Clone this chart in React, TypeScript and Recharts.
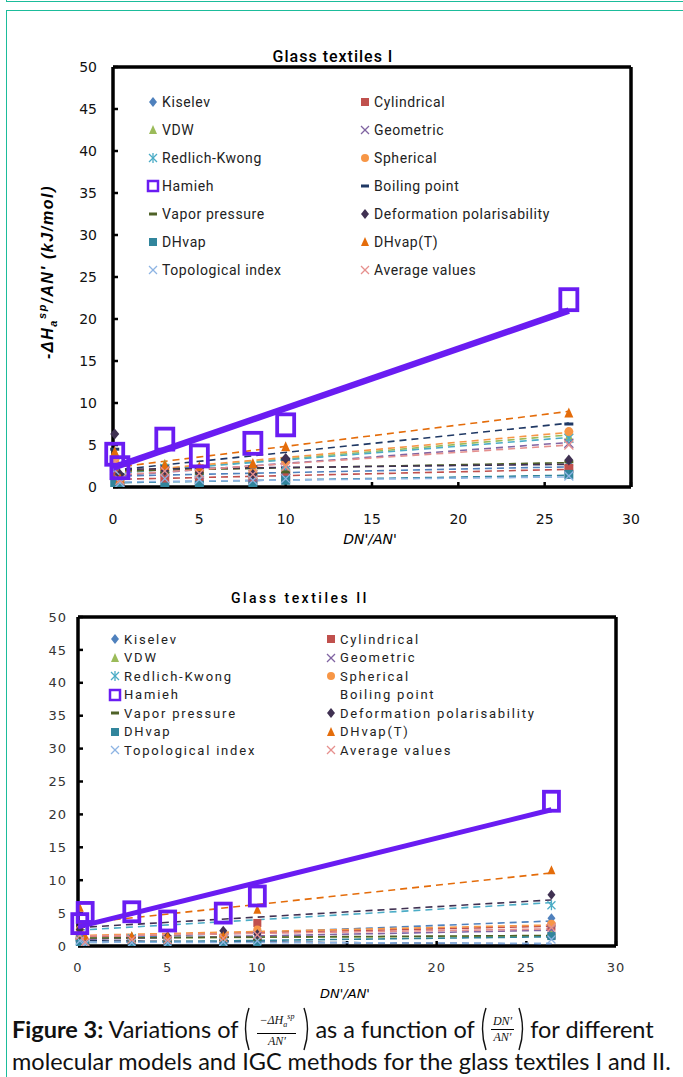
import React from 'react';
import { ScatterChart, Scatter, XAxis, YAxis, ReferenceLine } from 'recharts';

// ---------- data ----------
const PROBE_X = [0.1, 0.4, 3, 5, 8.1, 10, 26.4];
const TREND_X = [0, 26.4];
const X_TICKS = [0, 5, 10, 15, 20, 25, 30];
const Y_TICKS = [0, 5, 10, 15, 20, 25, 30, 35, 40, 45, 50];

const SERIES_NAMES = [
  'Kiselev', 'Cylindrical', 'VDW', 'Geometric', 'Redlich-Kwong', 'Spherical', 'Hamieh',
  'Boiling point', 'Vapor pressure', 'Deformation polarisability', 'DHvap', 'DHvap(T)',
  'Topological index', 'Average values',
];

// Glass textiles I : values at PROBE_X
const G1_KISELEV = [2.2, 1.0, 1.5, 1.2, 1.0, 1.5, 2.6];
const G1_CYLINDRICAL = [1.8, 0.5, 1.0, 0.8, 0.8, 1.2, 2.2];
const G1_VDW = [3.0, 1.2, 2.7, 1.8, 1.5, 2.5, 6.0];
const G1_GEOMETRIC = [2.5, 0.8, 1.8, 1.5, 1.2, 2.0, 5.2];
const G1_REDLICH = [2.8, 1.0, 2.2, 1.7, 1.5, 2.6, 5.8];
const G1_SPHERICAL = [3.2, 0.5, 2.0, 1.9, 1.8, 3.0, 6.6];
const G1_HAMIEH = [3.9, 2.3, 5.7, 3.7, 5.2, 7.4, 22.3];
const G1_BOILING = [4.5, 1.5, 2.4, 2.2, 2.4, 3.3, 7.5];
const G1_VAPOR = [2.3, 1.0, 1.7, 1.6, 1.5, 1.8, 3.0];
const G1_DEFORM = [6.3, 1.5, 2.0, 1.8, 1.5, 3.4, 3.2];
const G1_DHVAP = [0.3, 0.1, 0.0, 0.2, 0.1, 0.8, 1.5];
const G1_DHVAPT = [4.2, 1.0, 2.6, 2.4, 2.8, 4.8, 8.8];
const G1_TOPO = [2.0, 0.5, 1.0, 0.9, 0.8, 1.0, 1.3];
const G1_AVERAGE = [3.0, 0.8, 1.9, 1.6, 1.5, 2.4, 5.0];

// Glass textiles I : trend line values at TREND_X
const G1T_KISELEV = [1.3, 2.4];
const G1T_CYLINDRICAL = [0.9, 2.1];
const G1T_VDW = [1.6, 6.2];
const G1T_GEOMETRIC = [1.3, 5.3];
const G1T_REDLICH = [1.6, 5.9];
const G1T_SPHERICAL = [1.7, 6.5];
const G1T_HAMIEH = [2.3, 21.0];
const G1T_BOILING = [2.0, 7.6];
const G1T_VAPOR = [1.9, 2.9];
const G1T_DEFORM = [2.1, 2.7];
const G1T_DHVAP = [0.5, 1.4];
const G1T_DHVAPT = [2.3, 9.0];
const G1T_TOPO = [0.6, 1.2];
const G1T_AVERAGE = [1.4, 5.0];

// Glass textiles II : values at PROBE_X
const G2_KISELEV = [2.0, 0.8, 1.2, 1.0, 1.5, 2.0, 4.2];
const G2_CYLINDRICAL = [1.5, 0.5, 0.8, 1.0, 1.2, 3.5, 3.0];
const G2_VDW = [1.8, 0.6, 1.5, 1.0, 1.0, 1.5, 2.0];
const G2_GEOMETRIC = [1.2, 0.5, 1.0, 0.8, 1.0, 1.5, 2.5];
const G2_REDLICH = [1.4, 0.5, 1.2, 0.9, 1.2, 1.8, 6.2];
const G2_SPHERICAL = [2.5, 0.8, 1.0, 0.8, 1.5, 2.5, 3.4];
const G2_HAMIEH = [3.4, 5.1, 5.2, 3.8, 5.0, 7.6, 22.0];
const G2_BOILING = [1.0, 0.5, 0.8, 0.6, 0.8, 1.0, 1.2];
const G2_VAPOR = [1.2, 0.4, 0.8, 0.6, 0.8, 1.0, 1.6];
const G2_DEFORM = [2.5, 1.0, 1.2, 1.5, 2.3, 1.8, 7.8];
const G2_DHVAP = [0.3, 0.2, 0.1, 0.1, 0.1, 0.2, 1.5];
const G2_DHVAPT = [5.8, 1.5, 1.5, 1.5, 1.5, 5.5, 11.5];
const G2_TOPO = [0.8, 0.3, 0.5, 0.5, 0.6, 0.8, 1.0];
const G2_AVERAGE = [1.6, 0.6, 1.0, 0.9, 1.2, 1.7, 2.8];

// Glass textiles II : trend line values at TREND_X
const G2T_KISELEV = [1.0, 3.8];
const G2T_CYLINDRICAL = [1.4, 3.0];
const G2T_VDW = [1.2, 1.5];
const G2T_GEOMETRIC = [1.0, 2.4];
const G2T_REDLICH = [2.4, 6.6];
const G2T_SPHERICAL = [1.6, 3.2];
const G2T_HAMIEH = [2.9, 20.7];
const G2T_BOILING = [0.8, 0.3];
const G2T_VAPOR = [1.2, 1.6];
const G2T_DEFORM = [2.8, 7.0];
const G2T_DHVAP = [0.5, 1.4];
const G2T_DHVAPT = [3.4, 11.1];
const G2T_TOPO = [0.6, 0.4];
const G2T_AVERAGE = [1.5, 2.6];

const G1_VALUES = [G1_KISELEV, G1_CYLINDRICAL, G1_VDW, G1_GEOMETRIC, G1_REDLICH, G1_SPHERICAL, G1_HAMIEH,
  G1_BOILING, G1_VAPOR, G1_DEFORM, G1_DHVAP, G1_DHVAPT, G1_TOPO, G1_AVERAGE];
const G1_TRENDS = [G1T_KISELEV, G1T_CYLINDRICAL, G1T_VDW, G1T_GEOMETRIC, G1T_REDLICH, G1T_SPHERICAL, G1T_HAMIEH,
  G1T_BOILING, G1T_VAPOR, G1T_DEFORM, G1T_DHVAP, G1T_DHVAPT, G1T_TOPO, G1T_AVERAGE];
const G2_VALUES = [G2_KISELEV, G2_CYLINDRICAL, G2_VDW, G2_GEOMETRIC, G2_REDLICH, G2_SPHERICAL, G2_HAMIEH,
  G2_BOILING, G2_VAPOR, G2_DEFORM, G2_DHVAP, G2_DHVAPT, G2_TOPO, G2_AVERAGE];
const G2_TRENDS = [G2T_KISELEV, G2T_CYLINDRICAL, G2T_VDW, G2T_GEOMETRIC, G2T_REDLICH, G2T_SPHERICAL, G2T_HAMIEH,
  G2T_BOILING, G2T_VAPOR, G2T_DEFORM, G2T_DHVAP, G2T_DHVAPT, G2T_TOPO, G2T_AVERAGE];

// ---------- styles ----------
const HAMIEH_COLOR = '#6a1cf2';
const SERIES_STYLE: Record<string, { color: string; shape: string }> = {
  'Kiselev': { color: '#4f81bd', shape: 'diamond' },
  'Cylindrical': { color: '#c0504d', shape: 'square' },
  'VDW': { color: '#9bbb59', shape: 'triangle' },
  'Geometric': { color: '#8064a2', shape: 'x' },
  'Redlich-Kwong': { color: '#4bacc6', shape: 'star' },
  'Spherical': { color: '#f79646', shape: 'circle' },
  'Hamieh': { color: HAMIEH_COLOR, shape: 'open' },
  'Boiling point': { color: '#1f3864', shape: 'dash' },
  'Vapor pressure': { color: '#4f6228', shape: 'dash' },
  'Deformation polarisability': { color: '#403152', shape: 'diamond' },
  'DHvap': { color: '#31859c', shape: 'square' },
  'DHvap(T)': { color: '#e46c0a', shape: 'triangle' },
  'Topological index': { color: '#8eb4e3', shape: 'x' },
  'Average values': { color: '#e6908e', shape: 'x' },
};

function drawMarker(shape: string, color: string, cx: number, cy: number, s: number) {
  const h = s / 2;
  switch (shape) {
    case 'diamond':
      return <polygon points={`${cx},${cy - h - 1} ${cx + h},${cy} ${cx},${cy + h + 1} ${cx - h},${cy}`} fill={color} />;
    case 'square':
      return <rect x={cx - h} y={cy - h} width={s} height={s} fill={color} />;
    case 'triangle':
      return <polygon points={`${cx},${cy - h - 1} ${cx + h},${cy + h} ${cx - h},${cy + h}`} fill={color} />;
    case 'x':
      return (
        <g stroke={color} strokeWidth={1.3}>
          <line x1={cx - h} y1={cy - h} x2={cx + h} y2={cy + h} />
          <line x1={cx - h} y1={cy + h} x2={cx + h} y2={cy - h} />
        </g>
      );
    case 'star':
      return (
        <g stroke={color} strokeWidth={1.3}>
          <line x1={cx - h} y1={cy - h} x2={cx + h} y2={cy + h} />
          <line x1={cx - h} y1={cy + h} x2={cx + h} y2={cy - h} />
          <line x1={cx} y1={cy - h - 1} x2={cx} y2={cy + h + 1} />
        </g>
      );
    case 'circle':
      return <circle cx={cx} cy={cy} r={h} fill={color} />;
    case 'dash':
      return <rect x={cx - h} y={cy - 1.5} width={s} height={3} fill={color} />;
    case 'open':
      return <rect x={cx - h} y={cy - h - 2} width={s} height={s + 4} fill="none" stroke={color} strokeWidth={3.8} />;
    default:
      return <g />;
  }
}

const makeShape = (shape: string, color: string, s: number) => (props: any) => {
  const { cx, cy } = props;
  if (cx == null || cy == null) return <g />;
  return drawMarker(shape, color, cx, cy, s);
};
const noShape = () => <g />;

const toPoints = (xs: number[], ys: number[]) => xs.map((x, i) => ({ x, y: ys[i] }));

// ---------- chart ----------
type ChartProps = {
  values: number[][];
  trends: number[][];
  top: number;
  height: number;
  margin: { top: number; right: number; left: number; bottom: number };
  yAxisWidth: number;
  xAxisHeight: number;
  yTickMargin: number;
  xTickMargin: number;
  tickFont: any;
  markerSize: number;
  hamiehSize: number;
  hamiehWidth: number;
};

function GlassChart(p: ChartProps) {
  const names = SERIES_NAMES;
  const hi = names.indexOf('Hamieh');
  return (
    <div style={{ position: 'absolute', left: 0, top: p.top }}>
      <ScatterChart width={683} height={p.height} margin={p.margin}>
        <XAxis
          type="number"
          dataKey="x"
          domain={[0, 30]}
          ticks={X_TICKS}
          interval={0}
          height={p.xAxisHeight}
          axisLine={{ stroke: '#000', strokeWidth: 3.5 }}
          tickLine={{ stroke: '#000', strokeWidth: 2.5 }}
          tickSize={-5}
          tickMargin={p.xTickMargin}
          tick={p.tickFont}
        />
        <YAxis
          type="number"
          dataKey="y"
          domain={[0, 50]}
          ticks={Y_TICKS}
          interval={0}
          width={p.yAxisWidth}
          allowDataOverflow
          axisLine={{ stroke: '#000', strokeWidth: 3.5 }}
          tickLine={{ stroke: '#000', strokeWidth: 2.5 }}
          tickSize={-5}
          tickMargin={p.yTickMargin}
          tick={p.tickFont}
        />
        <ReferenceLine y={50} stroke="#000" strokeWidth={3.5} ifOverflow="visible" />
        <ReferenceLine x={30} stroke="#000" strokeWidth={3.5} ifOverflow="visible" />
        {names.map((n, i) =>
          i === hi ? null : (
            <Scatter
              key={'t' + n}
              data={toPoints(TREND_X, p.trends[i])}
              line={{ stroke: SERIES_STYLE[n].color, strokeWidth: 1.6, strokeDasharray: '7 5' }}
              shape={noShape}
              isAnimationActive={false}
            />
          )
        )}
        {names.map((n, i) =>
          i === hi ? null : (
            <Scatter
              key={'m' + n}
              data={toPoints(PROBE_X, p.values[i])}
              shape={makeShape(SERIES_STYLE[n].shape, SERIES_STYLE[n].color, p.markerSize)}
              isAnimationActive={false}
            />
          )
        )}
        <Scatter
          data={toPoints(TREND_X, p.trends[hi])}
          line={{ stroke: HAMIEH_COLOR, strokeWidth: p.hamiehWidth }}
          shape={noShape}
          isAnimationActive={false}
        />
        <Scatter
          data={toPoints(PROBE_X, p.values[hi])}
          shape={makeShape('open', HAMIEH_COLOR, p.hamiehSize)}
          isAnimationActive={false}
        />
      </ScatterChart>
    </div>
  );
}

function LegendBox(props: {
  left: number; top: number; col2: number; rowH: number; font: any; markerSize: number; blankBoiling?: boolean;
}) {
  const rows: string[][] = [];
  for (let i = 0; i < SERIES_NAMES.length; i += 2) rows.push([SERIES_NAMES[i], SERIES_NAMES[i + 1]]);
  return (
    <div style={{ position: 'absolute', left: props.left, top: props.top }}>
      {rows.map((r, ri) => (
        <div key={ri} style={{ position: 'relative', height: props.rowH }}>
          {r.map((n, ci) => {
            const st = SERIES_STYLE[n];
            const hideMarker = props.blankBoiling && n === 'Boiling point';
            return (
              <div
                key={n}
                style={{
                  position: 'absolute', left: ci === 0 ? 0 : props.col2, top: 0, height: props.rowH,
                  display: 'flex', alignItems: 'center', whiteSpace: 'nowrap', ...props.font,
                }}
              >
                <svg width={14} height={14} style={{ marginRight: 2 }}>
                  {hideMarker ? null : n === 'Hamieh'
                    ? <rect x={2} y={2} width={10} height={10} fill="none" stroke={HAMIEH_COLOR} strokeWidth={2.5} />
                    : drawMarker(st.shape, st.color, 7, 7, props.markerSize)}
                </svg>
                <span>{n}</span>
              </div>
            );
          })}
        </div>
      ))}
    </div>
  );
}

const tick1 = { fill: '#111', fontSize: 14, fontFamily: 'DejaVu Sans', fontWeight: 400 };
const tick2 = { fill: '#333', fontSize: 13, fontFamily: 'DejaVu Sans', letterSpacing: 1 };

function Paren({ right }: { right?: boolean }) {
  return (
    <svg width={9} height={46} style={{ display: 'block' }}>
      <path d={right ? 'M2,2 Q9,23 2,44' : 'M7,2 Q0,23 7,44'} stroke="#111" strokeWidth={1.4} fill="none" />
    </svg>
  );
}

function Frac({ num, den, pad }: { num: React.ReactNode; den: React.ReactNode; pad: number }) {
  return (
    <span style={{ display: 'inline-flex', alignItems: 'center', height: 30, margin: '0 4px' }}>
      <Paren />
      <span style={{ display: 'inline-flex', flexDirection: 'column', alignItems: 'center', fontFamily: 'Liberation Serif', fontStyle: 'italic', fontSize: 12, lineHeight: '15px', padding: `0 ${pad}px` }}>
        <span style={{ borderBottom: '1px solid #000', padding: '0 2px' }}>{num}</span>
        <span>{den}</span>
      </span>
      <Paren right />
    </span>
  );
}

export default function App() {
  return (
    <div style={{ position: 'absolute', left: 0, top: 0, width: 683, height: 1077, background: '#fff', overflow: 'hidden' }}>
      {/* teal frames */}
      <div style={{ position: 'absolute', left: 6, top: -20, width: 700, height: 21, borderLeft: '1.5px solid #1bbc9b', borderBottom: '1.5px solid #1bbc9b' }} />
      <div style={{ position: 'absolute', left: 6, top: 10, width: 700, height: 1100, borderLeft: '1.5px solid #1bbc9b', borderTop: '1.5px solid #1bbc9b' }} />

      {/* Chart I */}
      <GlassChart
        values={G1_VALUES}
        trends={G1_TRENDS}
        top={0}
        height={560}
        margin={{ top: 67, right: 52, left: 53, bottom: 13 }}
        yAxisWidth={60}
        xAxisHeight={60}
        yTickMargin={21}
        xTickMargin={32}
        tickFont={tick1}
        markerSize={9}
        hamiehSize={17}
        hamiehWidth={6.5}
      />
      <div style={{ position: 'absolute', left: 233, width: 200, top: 47, textAlign: 'center', fontFamily: 'Roboto', fontWeight: 500, fontSize: 16, letterSpacing: 1 }}>
        Glass textiles I
      </div>
      <svg style={{ position: 'absolute', left: 0, top: 0 }} width={100} height={560}>
        <text transform="translate(53,272) rotate(-90)" textAnchor="middle" fontFamily="Liberation Sans" fontWeight="bold" fontStyle="italic" fontSize={16} letterSpacing={1.6}>
          -ΔH<tspan dy={4} fontSize={11}>a</tspan><tspan dy={-11} fontSize={11}>sp</tspan><tspan dy={7}>/AN' (kJ/mol)</tspan>
        </text>
      </svg>
      <div style={{ position: 'absolute', left: 320, width: 100, top: 531, textAlign: 'center', fontFamily: 'DejaVu Sans', fontStyle: 'italic', fontSize: 14 }}>
        DN'/AN'
      </div>
      <LegendBox left={146} top={88} col2={212} rowH={28} markerSize={8}
        font={{ fontFamily: 'Roboto', fontSize: 14, letterSpacing: 0.6, color: '#222' }} />

      {/* Chart II */}
      <GlassChart
        values={G2_VALUES}
        trends={G2_TRENDS}
        top={560}
        height={440}
        margin={{ top: 57, right: 67, left: 28, bottom: 14 }}
        yAxisWidth={50}
        xAxisHeight={40}
        yTickMargin={16}
        xTickMargin={22}
        tickFont={tick2}
        markerSize={8}
        hamiehSize={15}
        hamiehWidth={5}
      />
      <div style={{ position: 'absolute', left: 200, width: 200, top: 590, textAlign: 'center', fontFamily: 'Roboto', fontWeight: 500, fontSize: 14, letterSpacing: 2.5 }}>
        Glass textiles II
      </div>
      <div style={{ position: 'absolute', left: 295, width: 100, top: 986, textAlign: 'center', fontFamily: 'DejaVu Sans', fontStyle: 'italic', fontSize: 13 }}>
        DN'/AN'
      </div>
      <LegendBox left={108} top={630} col2={216} rowH={18.5} markerSize={8} blankBoiling
        font={{ fontFamily: 'Roboto', fontSize: 13, letterSpacing: 1.8, color: '#222' }} />

      {/* caption */}
      <div style={{ position: 'absolute', left: 12, top: 1014, width: 700, fontFamily: 'Lato', fontSize: 23.5, color: '#111', whiteSpace: 'nowrap' }}>
        <div style={{ display: 'flex', alignItems: 'center', height: 30, lineHeight: '30px' }}>
          <b>Figure 3:</b>&nbsp;Variations of
          <Frac pad={6} num={<span>−ΔH<sub style={{ fontSize: 8 }}>a</sub><sup style={{ fontSize: 8 }}>sp</sup></span>} den={<span>AN′</span>} />
          as a function of
          <Frac pad={3} num={<span>DN′</span>} den={<span>AN′</span>} />
          for different
        </div>
        <div style={{ lineHeight: '30px', marginTop: 2 }}>molecular models and IGC methods for the glass textiles I and II.</div>
      </div>
    </div>
  );
}
